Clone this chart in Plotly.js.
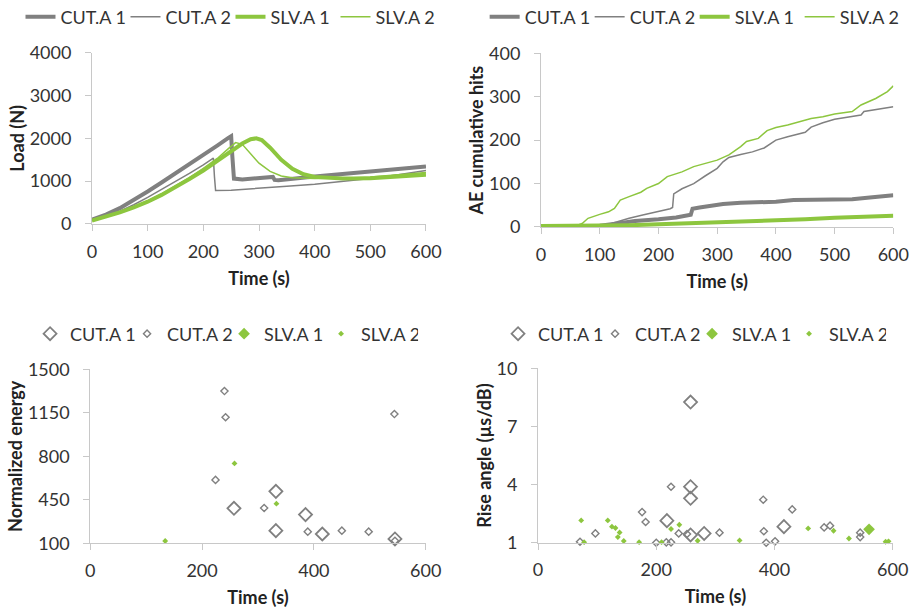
<!DOCTYPE html>
<html>
<head>
<meta charset="utf-8">
<script src="https://cdn.plot.ly/plotly-3.0.1.min.js"></script>
<style>html,body{margin:0;padding:0;background:#fff;}#chart{width:911px;height:610px;}</style>
</head>
<body>
<div id="chart"></div>
<script>
// ---------- Series names ----------
const seriesNames = ["CUT.A 1", "CUT.A 2", "SLV.A 1", "SLV.A 2"];

// ---------- Panel 1: Load (N) vs Time (s) ----------
const loadCut1T = [0, 25, 50, 75, 100, 125, 150, 175, 200, 225, 245, 250, 252, 255, 270, 300, 325, 328, 335, 400, 450, 500, 550, 600];
const loadCut1Y = [100, 220, 370, 560, 760, 970, 1180, 1400, 1620, 1830, 2010, 2050, 1600, 1060, 1040, 1070, 1100, 1030, 1020, 1110, 1170, 1240, 1290, 1340];
const loadCut2T = [0, 25, 50, 75, 100, 125, 150, 175, 200, 210, 218, 220, 222, 250, 300, 350, 400, 450, 500, 550, 600];
const loadCut2Y = [100, 190, 300, 450, 620, 800, 990, 1180, 1380, 1460, 1540, 1100, 780, 790, 830, 880, 930, 990, 1060, 1150, 1250];
const loadSlv1T = [0, 25, 50, 75, 100, 125, 150, 175, 200, 225, 250, 270, 285, 295, 305, 320, 340, 360, 380, 400, 450, 500, 550, 600];
const loadSlv1Y = [80, 170, 270, 390, 520, 680, 860, 1050, 1250, 1470, 1700, 1880, 1980, 2000, 1960, 1780, 1500, 1290, 1160, 1100, 1060, 1070, 1110, 1150];
const loadSlv2T = [0, 25, 50, 75, 100, 125, 150, 175, 200, 225, 245, 258, 270, 285, 300, 320, 340, 360, 400, 450, 500, 550, 600];
const loadSlv2Y = [80, 175, 280, 400, 540, 700, 880, 1080, 1300, 1530, 1760, 1900, 1860, 1650, 1420, 1230, 1120, 1080, 1060, 1070, 1100, 1150, 1200];

// ---------- Panel 2: AE cumulative hits vs Time (s) ----------
const aeCut1T = [0, 100, 130, 160, 200, 230, 255, 258, 270, 290, 310, 340, 370, 400, 430, 460, 500, 530, 560, 600];
const aeCut1Y = [2, 3, 8, 14, 18, 22, 28, 42, 45, 50, 53, 56, 57, 58, 62, 63, 64, 64, 68, 73];
const aeCut2T = [0, 100, 120, 150, 175, 200, 220, 224, 226, 240, 260, 280, 300, 310, 320, 340, 360, 380, 400, 420, 450, 460, 480, 500, 520, 545, 550, 575, 600];
const aeCut2Y = [2, 2, 8, 20, 28, 35, 42, 45, 76, 88, 100, 118, 135, 150, 160, 167, 173, 182, 200, 208, 218, 230, 240, 248, 253, 258, 266, 272, 277];
const aeSlv1T = [0, 100, 150, 200, 250, 300, 350, 400, 450, 500, 550, 600];
const aeSlv1Y = [2, 2, 4, 6, 8, 10, 12, 15, 18, 21, 24, 26];
const aeSlv2T = [0, 60, 70, 80, 100, 115, 125, 135, 150, 170, 180, 200, 215, 240, 260, 280, 300, 320, 340, 350, 370, 385, 400, 420, 440, 460, 480, 500, 530, 545, 570, 590, 600];
const aeSlv2Y = [2, 3, 8, 20, 29, 35, 43, 62, 70, 80, 89, 100, 116, 127, 139, 147, 154, 166, 185, 197, 204, 222, 229, 235, 243, 250, 254, 260, 266, 281, 296, 312, 325];

// ---------- Panel 3: Normalized energy vs Time (s) ----------
const enCut1T = [257, 332, 332, 385, 415, 545];
const enCut1Y = [382, 518, 202, 331, 175, 135];
const enCut2T = [240, 242, 224, 311, 389, 450, 498, 544, 545];
const enCut2Y = [1325, 1114, 610, 384, 194, 202, 194, 1140, 121];
const enSlv1T = [null];   // no visible points in this panel (legend entry only)
const enSlv1Y = [null];
const enSlv2T = [134, 258, 333];
const enSlv2Y = [119, 743, 419];

// ---------- Panel 4: Rise angle (µs/dB) vs Time (s) ----------
const raCut1T = [258, 258, 258, 218, 258, 281, 416];
const raCut1Y = [8.26, 3.89, 3.29, 2.14, 1.40, 1.48, 1.83];
const raCut2T = [71, 97, 176, 182, 225, 200, 217, 225, 238, 252, 307, 381, 382, 386, 401, 430, 484, 494, 545, 545];
const raCut2Y = [1.05, 1.48, 2.58, 2.07, 3.89, 1.0, 1.02, 1.02, 1.48, 1.45, 1.52, 3.22, 1.59, 1.0, 1.07, 2.72, 1.79, 1.88, 1.52, 1.29];
const raSlv1T = [560];
const raSlv1Y = [1.69];
const raSlv2T = [73, 78, 118, 125, 131, 138, 135, 145, 171, 209, 225, 239, 270, 341, 457, 500, 526, 588, 593];
const raSlv2Y = [2.15, 1.03, 2.15, 1.83, 1.76, 1.53, 1.29, 1.09, 1.03, 1.03, 1.71, 1.93, 1.10, 1.12, 1.74, 1.62, 1.22, 1.05, 1.07];

// ---------- Tick / axis labels ----------
const xTitle = "Time (s)";
const yTitles = ["Load (N)", "AE cumulative hits", "Normalized energy", "Rise angle (µs/dB)"];
const loadTicks = [0, 1000, 2000, 3000, 4000];
const aeTicks = [0, 100, 200, 300, 400];
const energyTicks = [100, 450, 800, 1150, 1500];
const riseTicks = [1, 4, 7, 10];
const timeTicksTop = [0, 100, 200, 300, 400, 500, 600];
const timeTicksBottom = [0, 200, 400, 600];

// ---------- Styles ----------
const GRAY = "#808080";
const GREEN = "#8dc63f";
const TXT = "#333333";
const FONT = "Lato, 'Open Sans', sans-serif";

function lineTrace(x, y, name, color, width, xa, ya, leg) {
  return {x: x, y: y, name: name, type: "scatter", mode: "lines",
    line: {color: color, width: width}, xaxis: xa, yaxis: ya, legend: leg, cliponaxis: false};
}
function markerTrace(x, y, name, color, size, filled, xa, ya, leg) {
  return {x: x, y: y, name: name, type: "scatter", mode: "markers",
    marker: {symbol: filled ? "diamond" : "diamond-open", size: size, color: color,
             line: {color: color, width: filled ? 0 : (size > 8 ? 1.8 : 1.4)}},
    xaxis: xa, yaxis: ya, legend: leg, cliponaxis: false};
}

const data = [
  lineTrace(loadCut1T, loadCut1Y, seriesNames[0], GRAY, 4, "x", "y", "legend"),
  lineTrace(loadCut2T, loadCut2Y, seriesNames[1], GRAY, 1.5, "x", "y", "legend"),
  lineTrace(loadSlv1T, loadSlv1Y, seriesNames[2], GREEN, 4, "x", "y", "legend"),
  lineTrace(loadSlv2T, loadSlv2Y, seriesNames[3], GREEN, 1.5, "x", "y", "legend"),

  lineTrace(aeCut1T, aeCut1Y, seriesNames[0], GRAY, 4, "x2", "y2", "legend2"),
  lineTrace(aeCut2T, aeCut2Y, seriesNames[1], GRAY, 1.5, "x2", "y2", "legend2"),
  lineTrace(aeSlv1T, aeSlv1Y, seriesNames[2], GREEN, 4, "x2", "y2", "legend2"),
  lineTrace(aeSlv2T, aeSlv2Y, seriesNames[3], GREEN, 1.5, "x2", "y2", "legend2"),

  markerTrace(enCut1T, enCut1Y, seriesNames[0], GRAY, 10, false, "x3", "y3", "legend3"),
  markerTrace(enCut2T, enCut2Y, seriesNames[1], GRAY, 5.5, false, "x3", "y3", "legend3"),
  markerTrace(enSlv1T, enSlv1Y, seriesNames[2], GREEN, 9, true, "x3", "y3", "legend3"),
  markerTrace(enSlv2T, enSlv2Y, seriesNames[3], GREEN, 4.5, true, "x3", "y3", "legend3"),

  markerTrace(raCut1T, raCut1Y, seriesNames[0], GRAY, 10, false, "x4", "y4", "legend4"),
  markerTrace(raCut2T, raCut2Y, seriesNames[1], GRAY, 5.5, false, "x4", "y4", "legend4"),
  markerTrace(raSlv1T, raSlv1Y, seriesNames[2], GREEN, 9, true, "x4", "y4", "legend4"),
  markerTrace(raSlv2T, raSlv2Y, seriesNames[3], GREEN, 4.5, true, "x4", "y4", "legend4")
];

function xAxis(domain, anchor, ticks, range) {
  return {domain: domain, anchor: anchor, range: range, tickvals: ticks, ticktext: ticks.map(String),
    showline: true, linecolor: "#c8c8c8", linewidth: 1, ticks: "outside", ticklen: 6, tickcolor: "#c8c8c8",
    showgrid: false, zeroline: false, automargin: false,
    tickfont: {family: FONT, size: 18, color: TXT}, ticklabelstandoff: 5,
    title: {text: xTitle, font: {family: FONT, size: 18, color: "#222", weight: "bold"}, standoff: 11}};
}
function yAxis(domain, anchor, ticks, range, title) {
  return {domain: domain, anchor: anchor, range: range, tickvals: ticks, ticktext: ticks.map(String),
    showline: true, linecolor: "#c8c8c8", linewidth: 1, ticks: "outside", ticklen: 6, tickcolor: "#c8c8c8",
    showgrid: false, zeroline: false, automargin: false,
    tickfont: {family: FONT, size: 18, color: TXT}, ticklabelstandoff: 10,
    title: {text: title, font: {family: FONT, size: 18, color: "#222", weight: "bold"}, standoff: 0}};
}
function legendCfg(x, y, ew) {
  return {orientation: "h", x: x, y: y, xanchor: "left", yanchor: "middle",
    font: {family: FONT, size: 18, color: TXT}, bgcolor: "rgba(0,0,0,0)", entrywidth: ew, itemclick: false};
}

const layout = {
  width: 911, height: 610,
  margin: {l: 0, r: 0, t: 0, b: 0, autoexpand: false},
  paper_bgcolor: "#fff", plot_bgcolor: "#fff",
  showlegend: true,
  font: {family: FONT, color: TXT},
  xaxis: xAxis([0.101, 0.4676], "y", timeTicksTop, [0, 600]),
  yaxis: yAxis([0.6328, 0.9136], "x", loadTicks, [0, 4000], yTitles[0]),
  xaxis2: xAxis([0.5939, 0.9806], "y2", timeTicksTop, [0, 600]),
  yaxis2: yAxis([0.6279, 0.9126], "x2", aeTicks, [0, 400], yTitles[1]),
  xaxis3: xAxis([0.0991, 0.4673], "y3", timeTicksBottom, [0, 600]),
  yaxis3: yAxis([0.1093, 0.3946], "x3", energyTicks, [100, 1500], yTitles[2]),
  xaxis4: xAxis([0.5906, 0.9799], "y4", timeTicksBottom, [0, 600]),
  yaxis4: yAxis([0.1103, 0.3962], "x4", riseTicks, [1, 10], yTitles[3]),
  legend: legendCfg(0.0225, 0.972, 60),
  legend2: legendCfg(0.532, 0.972, 60),
  legend3: legendCfg(0.033, 0.4525, 52),
  legend4: legendCfg(0.5467, 0.4525, 52)
};

Plotly.newPlot("chart", data, layout, {staticPlot: true, displayModeBar: false});
</script>
</body>
</html>
